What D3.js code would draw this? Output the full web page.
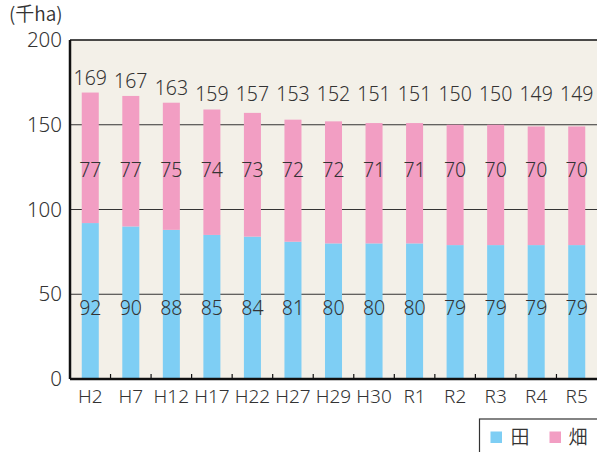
<!DOCTYPE html>
<html lang="ja">
<head>
<meta charset="utf-8">
<title>田畑別面積</title>
<script src="https://cdn.jsdelivr.net/npm/d3@7"></script>
<style>
  body { margin: 0; background: #fff; }
  svg text { font-family: "Noto Sans", "Noto Sans CJK JP", sans-serif; font-weight: 340; fill: #333; }
  svg text.cjk { font-family: "Noto Sans CJK JP", sans-serif; font-weight: 350; }
</style>
</head>
<body>
<svg id="chart"></svg>
<script>
// years (category labels)
const years = ['H2', 'H7', 'H12', 'H17', 'H22', 'H27', 'H29', 'H30', 'R1', 'R2', 'R3', 'R4', 'R5'];
// 田 (paddy) and 畑 (upland), 千ha
const paddy = [92, 90, 88, 85, 84, 81, 80, 80, 80, 79, 79, 79, 79];
const upland = [77, 77, 75, 74, 73, 72, 72, 71, 71, 70, 70, 70, 70];
const totals = [169, 167, 163, 159, 157, 153, 152, 151, 151, 150, 150, 149, 149];
const yTicks = [0, 50, 100, 150, 200];
const seriesNames = ['田', '畑'];
const colors = ['#7ecef4', '#f29ec3'];

const W = 597, H = 452;
const margin = {top: 40, right: 0, bottom: 73, left: 70};
const width = W - margin.left - margin.right,
  height = H - margin.top - margin.bottom;

const svg = d3.select('#chart').attr('width', W).attr('height', H);
const chart = svg.append('g').attr('transform', `translate(${margin.left},${margin.top})`);

const x = d3.scaleBand().domain(years).range([0, width]).paddingInner(0.58).paddingOuter(0.29);
const y = d3.scaleLinear().domain([0, 200]).range([height, 0]);

chart.append('rect')
  .attr('width', width).attr('height', height)
  .attr('fill', '#f3f0e8');

// gridlines
chart.selectAll('.grid')
  .data(yTicks.filter(d => d > 0 && d < 200))
  .enter().append('line')
  .attr('x1', 0).attr('x2', width)
  .attr('y1', d => y(d)).attr('y2', d => y(d))
  .attr('stroke', '#333').attr('stroke-width', 1.2);

const rows = years.map((yr, i) => ({year: yr, paddy: paddy[i], upland: upland[i], total: totals[i]}));

// paddy bars
chart.selectAll('.paddy')
  .data(rows).enter().append('rect')
  .attr('x', d => x(d.year)).attr('width', x.bandwidth())
  .attr('y', d => y(d.paddy)).attr('height', d => y(0) - y(d.paddy))
  .attr('fill', colors[0]);

// upland bars (stacked up to total)
chart.selectAll('.upland')
  .data(rows).enter().append('rect')
  .attr('x', d => x(d.year)).attr('width', x.bandwidth())
  .attr('y', d => y(d.total)).attr('height', d => y(d.paddy) - y(d.total))
  .attr('fill', colors[1]);

// top border
chart.append('line').attr('x1', 0).attr('x2', width).attr('y1', 0).attr('y2', 0)
  .attr('stroke', '#111').attr('stroke-width', 1.5);

const fs = 19.5;
const cx = d => x(d.year) + x.bandwidth() / 2;

chart.selectAll('.tot')
  .data(rows).enter().append('text')
  .attr('x', cx)
  .attr('y', d => Math.min(y(d.total) - 8, y(150) - 24))
  .attr('text-anchor', 'middle').style('font-size', fs + 'px')
  .text(d => d.total);

chart.selectAll('.uplab')
  .data(rows).enter().append('text')
  .attr('x', cx).attr('y', y(119))
  .attr('text-anchor', 'middle').style('font-size', fs + 'px')
  .text(d => d.upland);

chart.selectAll('.padlab')
  .data(rows).enter().append('text')
  .attr('x', cx).attr('y', y(38))
  .attr('text-anchor', 'middle').style('font-size', fs + 'px')
  .text(d => d.paddy);

// category ticks between bars
const bounds = years.slice(1).map(yr => x(yr) - x.step() * x.paddingInner() / 2);
chart.selectAll('.ctick')
  .data(bounds).enter().append('line')
  .attr('x1', d => d).attr('x2', d => d)
  .attr('y1', height).attr('y2', height - 5)
  .attr('stroke', '#111').attr('stroke-width', 1.2);

// axes lines
chart.append('line').attr('x1', 0).attr('x2', width).attr('y1', height).attr('y2', height)
  .attr('stroke', '#111').attr('stroke-width', 2.5);
chart.append('line').attr('x1', 0).attr('x2', 0).attr('y1', 0).attr('y2', height)
  .attr('stroke', '#111').attr('stroke-width', 2.5);

// x labels
chart.selectAll('.xlab')
  .data(years).enter().append('text')
  .attr('x', d => x(d) + x.bandwidth() / 2).attr('y', height + 24)
  .attr('text-anchor', 'middle').style('font-size', '19px')
  .text(d => d);

// y labels
chart.selectAll('.ylab')
  .data(yTicks).enter().append('text')
  .attr('x', -8).attr('y', d => y(d)).attr('dy', '0.35em')
  .attr('text-anchor', 'end').style('font-size', '20.5px')
  .text(d => d);

svg.append('text').attr('class', 'cjk').attr('x', 9).attr('y', 21)
  .style('font-size', '19px').text('(千ha)');

// legend
const lg = svg.append('g').attr('transform', 'translate(479.5,419)');
lg.append('rect').attr('x', 0).attr('y', 0).attr('width', 140).attr('height', 60)
  .attr('fill', '#fff').attr('stroke', '#333').attr('stroke-width', 1.2);
seriesNames.forEach((name, i) => {
  lg.append('rect').attr('x', 11 + i * 59).attr('y', 12.5).attr('width', 11.5).attr('height', 11.5)
    .attr('fill', colors[i]);
  lg.append('text').attr('class', 'cjk').attr('x', 31 + i * 58).attr('y', 24.5)
    .style('font-size', '19px')
    .text(name);
});
</script>
</body>
</html>
